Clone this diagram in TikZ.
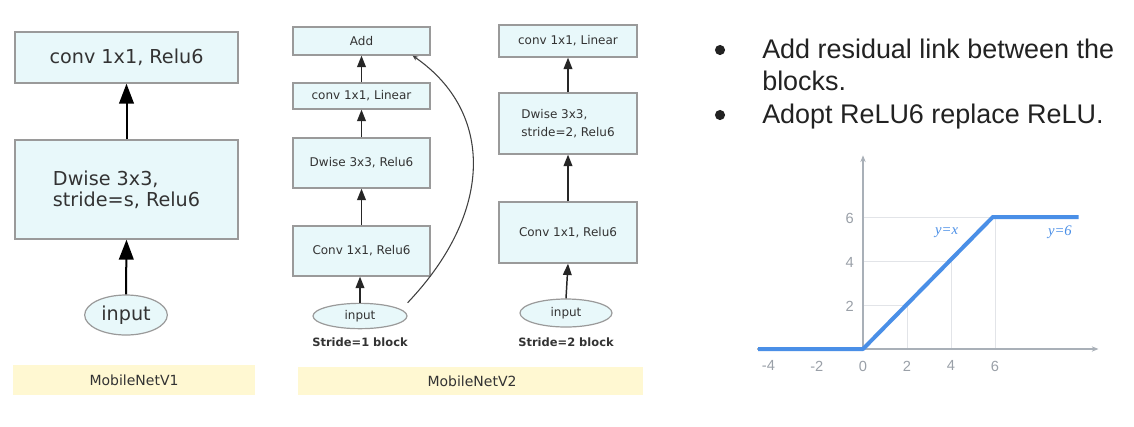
\documentclass[tikz,border=0pt]{standalone}
\usepackage{fontspec}
\setmainfont{DejaVu Sans}
\newfontfamily\arialf{Liberation Sans}
\newfontfamily\timesf{Liberation Serif}
\usetikzlibrary{arrows.meta,shapes.geometric}
\definecolor{boxfill}{HTML}{E8F8FA}
\definecolor{boxline}{HTML}{9A9A9A}
\definecolor{txt}{HTML}{333333}
\definecolor{bultxt}{HTML}{222222}
\definecolor{barfill}{HTML}{FFF8D2}
\definecolor{relublue}{HTML}{4A8FE7}
\definecolor{axisgray}{HTML}{A9B0B8}
\definecolor{gridgray}{HTML}{E2E4E8}
\definecolor{ticktxt}{HTML}{9AA0A8}
\tikzset{
  blk/.style={draw=boxline, line width=1pt, fill=boxfill, inner sep=0pt, text=txt},
  inp/.style={ellipse, draw=boxline, line width=0.9pt, fill=boxfill, inner sep=0pt, text=txt},
  bigarr/.style={draw=black, line width=1.5pt, -{Triangle[length=15pt,width=11pt]}},
  smallarr/.style={draw=black!85, line width=1.1pt, -{Triangle[length=8.5pt,width=6.5pt]}},
  bar/.style={fill=barfill, draw=none, inner sep=0pt, text=txt},
  lbl/.style={text=txt, inner sep=0pt},
  vsmall/.style={font=\fontsize{9}{10}\selectfont},
  ticklbl/.style={text=ticktxt, inner sep=0pt, font=\arialf\fontsize{11}{12}\selectfont},
  fnlbl/.style={text=relublue, inner sep=0pt, font=\timesf\itshape\fontsize{11}{12}\selectfont},
}
\begin{document}
\begin{tikzpicture}[x=0.75pt,y=-0.75pt]
\useasboundingbox[fill=white] (0,0) rectangle (1134,426);

% ---------------- MobileNetV1
\node[blk, minimum width=167.25pt, minimum height=38.25pt, font=\fontsize{14.4}{17}\selectfont] (v1a) at (126.5,57.5) {conv 1x1, Relu6};
\node[blk, minimum width=167.25pt, minimum height=74.25pt, align=left, font=\fontsize{14.4}{16}\selectfont] (v1b) at (126.5,189.5) {Dwise 3x3,\\stride=s, Relu6};
\node[inp, minimum width=62pt, minimum height=30pt, font=\fontsize{14.4}{17}\selectfont] (v1in) at (126,315) {input};
\draw[bigarr] (v1in.north) -- (v1b.south);
\draw[bigarr] (v1b.north) -- (v1a.south);
\node[bar, minimum width=181.5pt, minimum height=22.5pt] (v1bar) at (134,380) {};
\node[lbl, font=\fontsize{10.5}{12}\selectfont] (v1lab) at (134,380) {MobileNetV1};

% ---------------- MobileNetV2, stride 1
\node[blk, vsmall, minimum width=102.75pt, minimum height=21pt] (s1add) at (361.5,41) {Add};
\node[blk, vsmall, minimum width=102.75pt, minimum height=19.5pt] (s1lin) at (361.5,96) {conv 1x1, Linear};
\node[blk, vsmall, minimum width=102.75pt, minimum height=37.5pt] (s1dw) at (361.5,163) {Dwise 3x3, Relu6};
\node[blk, vsmall, minimum width=102.75pt, minimum height=37.5pt] (s1cv) at (361.5,251) {Conv 1x1, Relu6};
\node[inp, vsmall, minimum width=70.5pt, minimum height=19pt] (s1in) at (360,316) {input};
\node[lbl, font=\bfseries\fontsize{8.6}{10}\selectfont] (s1lab) at (360,342) {Stride=1 block};
\draw[smallarr] (s1in.north) -- (s1cv.south -| s1in.north);
\draw[smallarr] (s1cv.north) -- (s1dw.south);
\draw[smallarr] (s1dw.north) -- (s1lin.south);
\draw[smallarr] (s1lin.north) -- (s1add.south);
\draw[draw=black!75, line width=0.8pt, -{Stealth[length=4pt,width=3.5pt]}]
  (s1in.east |- s1in.north) .. controls (494,212) and (494,112) .. (s1add.-16);

% ---------------- MobileNetV2, stride 2
\node[blk, vsmall, minimum width=103.5pt, minimum height=24pt] (s2lin) at (568,41) {conv 1x1, Linear};
\node[blk, minimum width=103.5pt, minimum height=45.75pt, align=left, font=\fontsize{9}{13.5}\selectfont] (s2dw) at (568,123.5) {Dwise 3x3,\\stride=2, Relu6};
\node[blk, vsmall, minimum width=103.5pt, minimum height=45.75pt] (s2cv) at (568,232.5) {Conv 1x1, Relu6};
\node[inp, vsmall, minimum width=69pt, minimum height=21pt] (s2in) at (566,313) {input};
\node[lbl, font=\bfseries\fontsize{8.6}{10}\selectfont] (s2lab) at (566,342) {Stride=2 block};
\draw[smallarr] (s2in.north) -- (s2cv.south);
\draw[smallarr] (s2cv.north) -- (s2dw.south);
\draw[smallarr] (s2dw.north) -- (s2lin.south);
\node[bar, minimum width=258.75pt, minimum height=21pt] (v2bar) at (470.5,381) {};
\node[lbl, font=\fontsize{10.5}{12}\selectfont] (v2lab) at (472,381) {MobileNetV2};

% ---------------- bullets
\fill[bultxt] (720,50) circle (3.8pt);
\fill[bultxt] (720,115) circle (3.8pt);
\node[anchor=base west, inner sep=0pt, align=left, text=bultxt, font=\arialf\fontsize{20.2}{24}\selectfont] (bt1) at (762,90) {Add residual link between the\\blocks.};
\node[anchor=base west, inner sep=0pt, text=bultxt, font=\arialf\fontsize{20.2}{24}\selectfont] (bt2) at (762,123) {Adopt ReLU6 replace ReLU.};

% ---------------- ReLU6 chart
\begin{scope}[shift={(863,349)}, x=16.5pt, y=16.5pt]
  \draw[gridgray, line width=0.6pt] (0,2) -- (2,2) -- (2,0);
  \draw[gridgray, line width=0.6pt] (0,4) -- (4,4) -- (4,0);
  \draw[gridgray, line width=0.6pt] (0,6) -- (6,6) -- (6,0);
  \draw[axisgray, line width=0.8pt, -{Stealth[length=5pt,width=4pt]}] (-4.8,0) -- (10.7,0);
  \draw[axisgray, line width=0.8pt, -{Stealth[length=5pt,width=4pt]}] (0,0) -- (0,8.8);
  \draw[relublue, line width=3pt, line join=round] (-4.77,0) -- (0,0) -- (5.9,6) -- (9.8,6);
  \foreach \v/\p in {-4/-4.3,-2/-2.1,0/0,2/2,4/4,6/6}
    \node[ticklbl] at (\p,-0.77) {\v};
  \foreach \v in {2,4,6}
    \node[ticklbl] at (-0.6,\v-0.05) {\v};
  \node[fnlbl] at (3.8,5.3) {y=x};
  \node[fnlbl] at (8.95,5.3) {y=6};
\end{scope}
\end{tikzpicture}
\end{document}
